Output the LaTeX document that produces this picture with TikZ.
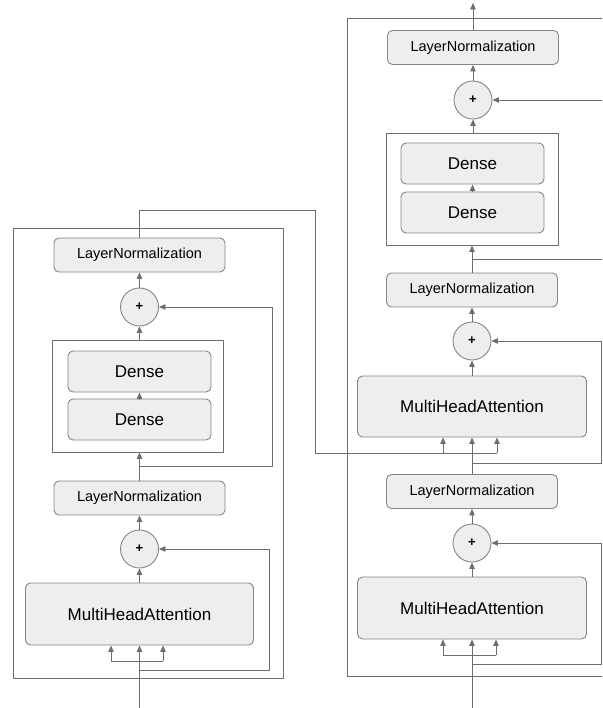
\documentclass[tikz,border=0pt]{standalone}
\usepackage{fontspec}
\setmainfont{Liberation Sans}
\usetikzlibrary{arrows.meta}
\definecolor{lc}{HTML}{6E6E6E}
\definecolor{bc}{HTML}{858585}
\definecolor{fc}{HTML}{EEEEEE}
\tikzset{
 blk/.style={draw=bc, fill=fc, rounded corners=5pt, line width=0.9pt, inner sep=0pt},
 lnbox/.style={blk, minimum width=171pt, minimum height=34pt, font=\fontsize{14.5}{16}\selectfont},
 densebox/.style={blk, minimum width=143pt, minimum height=41pt, font=\fontsize{17}{19}\selectfont},
 mhabox/.style={blk, minimum width=228pt, minimum height=62pt, font=\fontsize{17}{19}\selectfont},
 addnode/.style={circle, draw=bc, fill=fc, line width=0.9pt, minimum size=38pt, inner sep=0pt, font=\bfseries\fontsize{13}{14}\selectfont},
 framebox/.style={draw=lc, line width=0.9pt, inner sep=0pt},
 wire/.style={draw=lc, line width=0.9pt},
 arr/.style={wire, -{Triangle[length=6.5pt,width=5.5pt]}},
}
\begin{document}
\begin{tikzpicture}[x=1pt,y=-1pt]
\useasboundingbox (0,0) rectangle (602,708);
\clip (0,0) rectangle (602,708);
% ---------------- encoder ----------------
\node[framebox, minimum width=270pt, minimum height=450pt] (encframe) at (148,453) {};
\node[framebox, minimum width=171pt, minimum height=112pt] (dfL) at (137.5,396) {};
\node[lnbox] (lnL2) at (139.5,255) {LayerNormalization};
\node[addnode] (plusL2) at (139.5,307) {+};
\node[densebox] (denseL2) at (139.5,371.5) {Dense};
\node[densebox] (denseL1) at (139.5,419.5) {Dense};
\node[lnbox] (lnL1) at (139.5,498) {LayerNormalization};
\node[addnode] (plusL1) at (139.5,549) {+};
\node[mhabox] (mhaL) at (139.5,614) {MultiHeadAttention};
% ---------------- decoder ----------------
\node[framebox, minimum width=293pt, minimum height=658pt] (decframe) at (493.5,347) {};
\node[framebox, minimum width=172pt, minimum height=112pt] (dfD) at (472,189) {};
\node[lnbox] (lnD3) at (473,47.5) {LayerNormalization};
\node[addnode] (plusD3) at (473,100) {+};
\node[densebox] (denseD2) at (472.5,163.5) {Dense};
\node[densebox] (denseD1) at (472.5,212.5) {Dense};
\node[lnbox] (lnD2) at (472,290) {LayerNormalization};
\node[addnode] (plusD2) at (472,341) {+};
\node[mhabox, minimum width=229pt, minimum height=61pt] (mhaD2) at (472,406.5) {MultiHeadAttention};
\node[lnbox] (lnD1) at (472,491.5) {LayerNormalization};
\node[addnode] (plusD1) at (472,543) {+};
\node[mhabox, minimum width=229pt] (mhaD1) at (472,608) {MultiHeadAttention};
% ---------------- encoder connectors ----------------
\coordinate (inL) at (139.5,708);
\coordinate (qL1) at (111,661);
\coordinate (qL2) at (163,661);
\draw[arr] (inL) -- (mhaL.south);
\draw[wire] (qL1) -- (qL2);
\draw[arr] (qL1) -- (qL1 |- mhaL.south);
\draw[arr] (qL2) -- (qL2 |- mhaL.south);
\coordinate (sL1a) at (139.5,670);
\coordinate (sL1b) at (269,670);
\draw[arr] (sL1a) -- (sL1b) -- (sL1b |- plusL1.east) -- (plusL1.east);
\draw[arr] (mhaL.north) -- (plusL1.south);
\draw[arr] (plusL1.north) -- (lnL1.south);
\draw[arr] (lnL1.north) -- (lnL1.north |- dfL.south);
\coordinate (sL2a) at (139.5,466);
\coordinate (sL2b) at (272,466);
\draw[arr] (sL2a) -- (sL2b) -- (sL2b |- plusL2.east) -- (plusL2.east);
\draw[arr] (denseL1.north) -- (denseL2.south);
\draw[arr] (plusL2.south |- dfL.north) -- (plusL2.south);
\draw[arr] (plusL2.north) -- (lnL2.south);
% encoder output to decoder
\coordinate (eo1) at (139.5,210);
\coordinate (eo2) at (315,210);
\coordinate (eo3) at (315,453);
\coordinate (kD2) at (443,453);
\coordinate (vD2) at (497,453);
\draw[wire] (lnL2.north) -- (eo1) -- (eo2) -- (eo3) -- (vD2);
\draw[arr] (kD2) -- (kD2 |- mhaD2.south);
\draw[arr] (vD2) -- (vD2 |- mhaD2.south);
% ---------------- decoder connectors ----------------
\coordinate (inD) at (472,708);
\coordinate (qD1) at (443,655);
\coordinate (qD2) at (496,655);
\draw[arr] (inD) -- (mhaD1.south);
\draw[wire] (qD1) -- (qD2);
\draw[arr] (qD1) -- (qD1 |- mhaD1.south);
\draw[arr] (qD2) -- (qD2 |- mhaD1.south);
\coordinate (sD1a) at (472,664);
\coordinate (sD1b) at (601,664);
\draw[arr] (sD1a) -- (sD1b) -- (sD1b |- plusD1.east) -- (plusD1.east);
\draw[arr] (mhaD1.north) -- (plusD1.south);
\draw[arr] (plusD1.north) -- (lnD1.south);
\draw[arr] (lnD1.north) -- (mhaD2.south);
\coordinate (sD2a) at (472,463);
\coordinate (sD2b) at (601,463);
\draw[arr] (sD2a) -- (sD2b) -- (sD2b |- plusD2.east) -- (plusD2.east);
\draw[arr] (mhaD2.north) -- (plusD2.south);
\draw[arr] (plusD2.north) -- (lnD2.south);
\draw[arr] (lnD2.north) -- (lnD2.north |- dfD.south);
\coordinate (sD3a) at (472,259);
\coordinate (sD3b) at (610,259);
\draw[wire] (sD3a) -- (sD3b);
\draw[arr] (denseD1.north) -- (denseD2.south);
\draw[arr] (plusD3.south |- dfD.north) -- (plusD3.south);
\coordinate (sD3c) at (610,100);
\draw[arr] (sD3c) -- (plusD3.east);
\draw[arr] (plusD3.north) -- (lnD3.south);
\coordinate (outD) at (473,3);
\draw[arr] (lnD3.north) -- (outD);
\end{tikzpicture}
\end{document}
